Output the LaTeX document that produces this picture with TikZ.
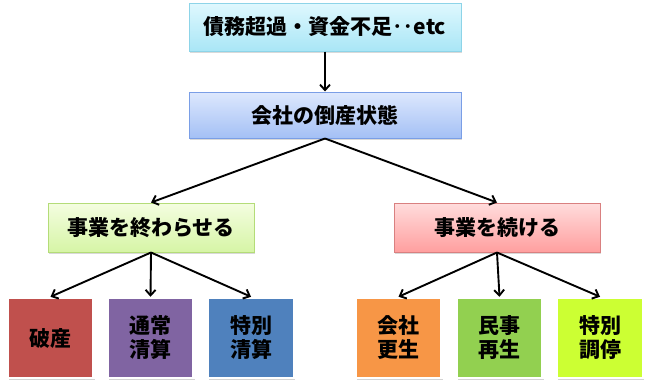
\documentclass[tikz,border=0pt]{standalone}
\usepackage{fontspec}
\setmainfont{Noto Sans CJK JP}
\usepackage{xcolor}
\usepackage{tikz}
\usetikzlibrary{arrows.meta,positioning,shadows}
\definecolor{cyanTop}{HTML}{DFF8FE}\definecolor{cyanBot}{HTML}{A9E6F6}\definecolor{cyanLine}{HTML}{8DD4E8}
\definecolor{blueTop}{HTML}{DDE8FD}\definecolor{blueBot}{HTML}{A4C0F5}\definecolor{blueLine}{HTML}{7A9EE6}
\definecolor{greenTop}{HTML}{F4FDE0}\definecolor{greenBot}{HTML}{D6F5A6}\definecolor{greenLine}{HTML}{B4DC78}
\definecolor{redTop}{HTML}{FFDCDC}\definecolor{redBot}{HTML}{FF9F9F}\definecolor{redLine}{HTML}{D98080}
\definecolor{cHasan}{HTML}{C0504D}\definecolor{cTsujo}{HTML}{8064A2}\definecolor{cTokubetsu}{HTML}{4F81BD}
\definecolor{cKosei}{HTML}{F79646}\definecolor{cSaisei}{HTML}{92D050}\definecolor{cChotei}{HTML}{CCFF33}

\begin{document}
\begin{tikzpicture}[x=1pt,y=-1pt,font=\bfseries\fontsize{21}{24}\selectfont,
  gradbox/.style={draw=#1Line,line width=1pt,top color=#1Top,bottom color=#1Bot,
    drop shadow={shadow xshift=1pt,shadow yshift=-1.5pt,opacity=.3}},
  leafbox/.style={draw=white,line width=2.5pt,fill=#1,minimum width=86pt,minimum height=80pt,
    align=center,drop shadow={shadow xshift=1.2pt,shadow yshift=-1.5pt,opacity=.35}},
  arr/.style={line width=1.9pt,-{Straight Barb[length=5.5pt,width=10pt]}}]
\useasboundingbox (0,0) rectangle (650,388);
\node[gradbox=cyan,minimum width=272pt,minimum height=48pt] (cause) at (325,27) {債務超過・資金不足‥etc};
\node[gradbox=blue,minimum width=272pt,minimum height=46pt] (tosan) at (325,115) {会社の倒産状態};
\node[gradbox=green,minimum width=206pt,minimum height=49pt] (owaru) at (151,227.5) {事業を終わらせる};
\node[gradbox=red,minimum width=206pt,minimum height=49pt] (tsuzuku) at (497,227.5) {事業を続ける};
\foreach \x/\n/\c/\lab in {50.5/hasan/cHasan/破産,150.5/tsujo/cTsujo/通常\\清算,251/tokubetsu/cTokubetsu/特別\\清算,
  398.5/kosei/cKosei/会社\\更生,499.5/saisei/cSaisei/民事\\再生,600/chotei/cChotei/特別\\調停}
  \node[leafbox=\c] (\n) at (\x,338) {\lab};
\draw[arr] (cause) -- (tosan);
\draw[arr] (tosan.south) -- (owaru.north);
\draw[arr] (tosan.south) -- (tsuzuku.north);
\foreach \n in {hasan,tsujo,tokubetsu}
  \draw[arr] (owaru.south) -- (\n.north);
\foreach \n in {kosei,saisei,chotei}
  \draw[arr] (tsuzuku.south) -- (\n.north);
\end{tikzpicture}
\end{document}
